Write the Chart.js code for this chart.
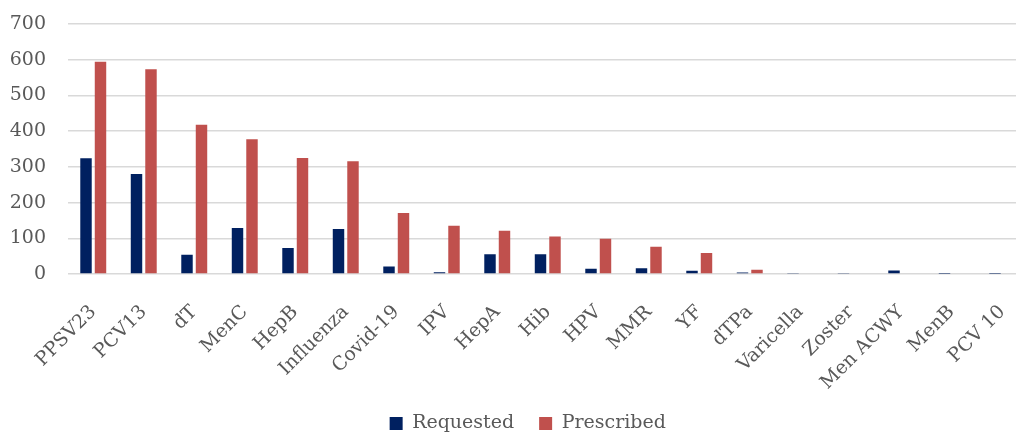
<!DOCTYPE html>
<html>
<head>
<meta charset="utf-8">
<script src="https://cdn.jsdelivr.net/npm/chart.js@4/dist/chart.umd.min.js"></script>
<style>
  html, body { margin: 0; padding: 0; overflow: hidden; background: #ffffff; }
  #wrap { width: 1016px; height: 433px; overflow: hidden; }
  canvas { display: block; }
</style>
</head>
<body>
<div id="wrap"><canvas id="chart" width="1056" height="443"></canvas></div>
<script>
// Vaccines, in the order shown on the category axis
const vaccines = ['PPSV23', 'PCV13', 'dT', 'MenC', 'HepB', 'Influenza', 'Covid-19', 'IPV', 'HepA',
  'Hib', 'HPV', 'MMR', 'YF', 'dTPa', 'Varicella', 'Zoster', 'Men ACWY', 'MenB', 'PCV 10'];

// Counts per vaccine
const requested  = [324, 280, 54, 129, 73, 126, 21, 5, 55, 55, 15, 16, 9, 4, 3, 3, 10, 1, 1];
const prescribed = [594, 573, 418, 377, 325, 316, 171, 135, 121, 105, 99, 76, 59, 12, 0, 0, 0, 0, 0];

// Value axis
const yTicks = [0, 100, 200, 300, 400, 500, 600, 700];

const FONT = 'DejaVu Serif';
const TEXT = '#595959';

// Centre the legend over the whole chart frame rather than the padded area
const legendOffset = {
  id: 'legendOffset',
  afterLayout(chart) {
    if (chart.legend) chart.legend.left += 28;
  }
};

new Chart(document.getElementById('chart'), {
  type: 'bar',
  data: {
    labels: vaccines,
    datasets: [
      { label: 'Requested',  data: requested,  backgroundColor: '#002060' },
      { label: 'Prescribed', data: prescribed, backgroundColor: '#C0504D' }
    ]
  },
  plugins: [legendOffset],
  options: {
    responsive: false,
    animation: false,
    devicePixelRatio: 1,
    categoryPercentage: 0.574,
    barPercentage: 0.79,
    layout: { padding: { left: 0, right: 28.5, top: 24, bottom: 0 } },
    plugins: {
      tooltip: { enabled: false },
      legend: {
        position: 'bottom',
        labels: {
          boxWidth: 13,
          boxHeight: 13,
          padding: 25,
          color: TEXT,
          font: { family: FONT, size: 19 }
        }
      }
    },
    scales: {
      x: {
        grid: { display: false },
        border: { display: false },
        ticks: {
          color: TEXT,
          font: { family: FONT, size: 19 },
          maxRotation: 45,
          minRotation: 45,
          autoSkip: false,
          padding: 19
        },
        afterFit(scale) { scale.height = 115; }
      },
      y: {
        min: yTicks[0],
        max: yTicks[yTicks.length - 1],
        afterBuildTicks(scale) { scale.ticks = yTicks.map(v => ({ value: v })); },
        // invisible tick marks keep the labels clear of the plot
        grid: { color: '#d9d9d9', lineWidth: 1.5, drawTicks: true, tickLength: 22, tickColor: 'rgba(0,0,0,0)' },
        border: { display: false },
        ticks: {
          color: TEXT,
          font: { family: FONT, size: 19 },
          padding: 0
        },
        afterFit(scale) { scale.width = 68; }
      }
    }
  }
});
</script>
</body>
</html>
